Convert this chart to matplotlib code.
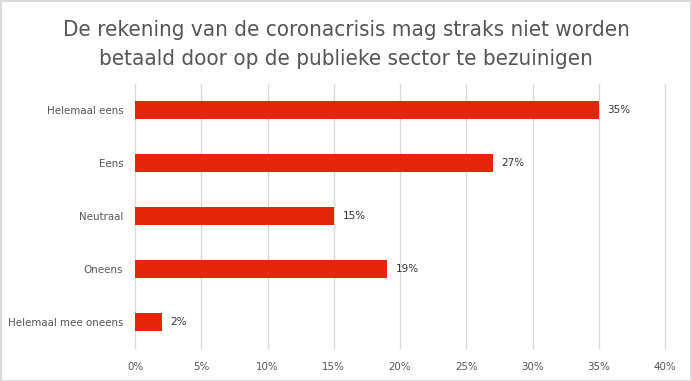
import matplotlib.pyplot as plt
from matplotlib.patches import Rectangle

# data
categories = ["Helemaal eens", "Eens", "Neutraal", "Oneens", "Helemaal mee oneens"]
values = [35, 27, 15, 19, 2]
tick_values = [0, 5, 10, 15, 20, 25, 30, 35, 40]
tick_labels = ["0%", "5%", "10%", "15%", "20%", "25%", "30%", "35%", "40%"]
title = "De rekening van de coronacrisis mag straks niet worden\nbetaald door op de publieke sector te bezuinigen"

bar_color = "#e6260b"
text_color = "#555555"
grid_color = "#d9d9d9"

fig = plt.figure(figsize=(6.92, 3.81), dpi=100)
ax = fig.add_axes([135 / 692, 33 / 381, 530 / 692, 264 / 381])

ypos = list(range(len(categories)))
ax.barh(ypos, values, height=0.34, color=bar_color, zorder=3)

for y, v in zip(ypos, values):
    ax.text(v + 0.65, y, f"{v}%", va="center", ha="left", fontsize=7.5,
            color="#333333", zorder=4)

ax.set_xlim(0, 40)
ax.set_ylim(4.5, -0.5)
ax.set_xticks(tick_values)
ax.set_xticklabels(tick_labels)
ax.set_yticks(ypos)
ax.set_yticklabels(categories)
ax.tick_params(axis="both", length=0, labelsize=7.4, labelcolor=text_color)
ax.tick_params(axis="x", pad=10)
ax.tick_params(axis="y", pad=8.5)
ax.grid(axis="x", color=grid_color, linewidth=1, zorder=0)
for gl in ax.get_xgridlines():
    gl.set_clip_on(False)
for s in ax.spines.values():
    s.set_visible(False)

fig.text(0.5, 1 - 44.5 / 381, title, ha="center", va="center", fontsize=16,
         color="#555555", linespacing=1.55, fontstretch="condensed",
         family=["DejaVu Sans"])

# light border around the figure
fig.patches.append(Rectangle((0.001, 0.001), 0.998, 0.997, transform=fig.transFigure,
                             fill=False, edgecolor=grid_color, linewidth=1.5))

fig.savefig("out.png", dpi=100)
